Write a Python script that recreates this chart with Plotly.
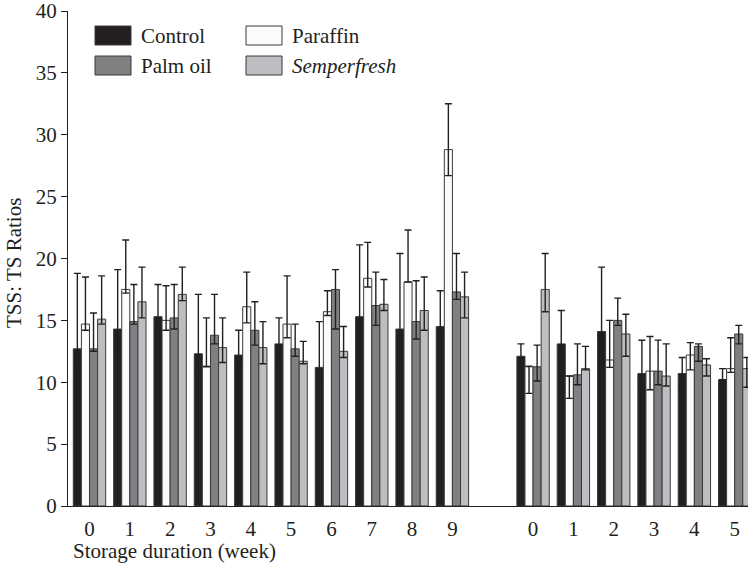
import plotly.graph_objects as go

# ---- data ----
weeks_first = list(range(10))      # first storage trial, weeks 0-9
weeks_second = list(range(6))      # second storage trial, weeks 0-5 (cut at right edge)
second_offset = 11                 # one empty slot between trials

series_names = ["Control", "Paraffin", "Palm oil", "Semperfresh"]
series_colors = ["#231f20", "#fbfbfb", "#808083", "#bdbec1"]

control_vals = [12.7, 14.3, 15.3, 12.3, 12.2, 13.1, 11.2, 15.3, 14.3, 14.5,
                12.1, 13.1, 14.1, 10.7, 10.7, 10.2]
control_up   = [6.1, 4.8, 2.6, 4.8, 2.0, 2.1, 3.7, 5.8, 6.1, 2.9,
                1.0, 2.7, 5.2, 2.7, 1.3, 0.9]
control_dn   = [1.8, 1.7, 1.0, 1.6, 0.8, 1.5, 1.3, 3.6, 3.3, 0.7,
                0.1, 0.9, 2.6, 1.0, 1.0, 0.0]

paraffin_vals = [14.7, 17.5, 15.0, 11.3, 16.1, 14.7, 15.7, 18.4, 18.1, 28.8,
                 11.25, 10.5, 11.8, 10.9, 12.2, 11.1]
paraffin_up   = [3.8, 4.0, 2.8, 3.9, 2.8, 3.9, 1.7, 2.9, 4.2, 3.7,
                 0.05, 0.0, 3.2, 2.8, 1.0, 2.5]
paraffin_dn   = [0.5, 0.3, 0.8, 0.05, 1.3, 1.1, 0.3, 0.7, 0.0, 2.1,
                 2.15, 1.8, 0.6, 1.5, 1.2, 0.3]

palm_vals = [12.7, 14.9, 15.2, 13.8, 14.2, 12.7, 17.5, 16.2, 14.9, 17.3,
             11.25, 10.6, 15.0, 10.9, 12.9, 13.9]
palm_up   = [2.9, 3.0, 2.7, 3.3, 2.3, 2.0, 1.6, 2.7, 3.3, 3.1,
             1.75, 2.5, 1.8, 2.5, 0.2, 0.7]
palm_dn   = [0.2, 0.2, 0.9, 0.7, 1.2, 0.6, 3.2, 1.6, 1.4, 0.6,
             1.15, 0.8, 0.4, 1.1, 1.2, 0.8]

semper_vals = [15.1, 16.5, 17.1, 12.8, 12.8, 11.7, 12.5, 16.3, 15.8, 16.9,
               17.5, 11.1, 13.9, 10.5, 11.4, 11.1]
semper_up   = [3.5, 2.8, 2.2, 2.4, 2.1, 1.6, 2.0, 2.0, 2.7, 2.0,
               2.9, 1.8, 1.6, 2.6, 0.5, 0.9]
semper_dn   = [0.4, 1.3, 0.5, 1.2, 1.3, 0.2, 0.5, 0.5, 1.6, 1.7,
               1.8, 0.1, 1.8, 0.8, 0.9, 1.5]

y_ticks = [0, 5, 10, 15, 20, 25, 30, 35, 40]

# ---- positions on a numeric axis ----
x_pos = weeks_first + [w + second_offset for w in weeks_second]
x_text = [str(w) for w in weeks_first + weeks_second]

values = [control_vals, paraffin_vals, palm_vals, semper_vals]
ups = [control_up, paraffin_up, palm_up, semper_up]
dns = [control_dn, paraffin_dn, palm_dn, semper_dn]

INK = "#231f20"
FONT = "Liberation Serif"

fig = go.Figure()
for name, col, v, u, d in zip(series_names, series_colors, values, ups, dns):
    fig.add_trace(go.Bar(
        x=x_pos, y=v, name=name,
        marker=dict(color=col, line=dict(color="#3a3a3a", width=1)),
        error_y=dict(type="data", symmetric=False, array=u, arrayminus=d,
                     color=INK, thickness=1.4, width=3.5),
        showlegend=False,
    ))

# custom legend (two columns)
L, W, T, H = 68, 680, 11, 495
def px_x(p): return (p - L) / W
def px_y(p): return (T + H - p) / H

legend_items = [
    (series_names[0], series_colors[0], 95, 26, False),
    (series_names[2], series_colors[2], 95, 56, False),
    (series_names[1], series_colors[1], 246, 26, False),
    (series_names[3], series_colors[3], 246, 56, True),
]
for name, col, lx, ly, ital in legend_items:
    fig.add_shape(type="rect", xref="paper", yref="paper",
                  x0=px_x(lx), x1=px_x(lx + 36), y0=px_y(ly + 19), y1=px_y(ly),
                  fillcolor=col, line=dict(color="#3a3a3a", width=1))
    fig.add_annotation(xref="paper", yref="paper", x=px_x(lx + 44), y=px_y(ly + 10),
                       text=f"<i>{name}</i>" if ital else name, showarrow=False,
                       xanchor="left", yanchor="middle",
                       font=dict(family=FONT, size=21, color=INK))

fig.add_annotation(xref="paper", yref="paper", x=px_x(71), y=px_y(551),
                   text="Storage duration (week)", showarrow=False,
                   xanchor="left", yanchor="middle",
                   font=dict(family=FONT, size=21, color=INK))
fig.add_annotation(xref="paper", yref="paper", x=px_x(14), y=px_y(263),
                   text="TSS: TS Ratios", showarrow=False, textangle=-90,
                   xanchor="center", yanchor="middle",
                   font=dict(family=FONT, size=21, color=INK))

fig.update_layout(
    width=748, height=569,
    margin=dict(l=L, r=0, t=T, b=569 - T - H),
    paper_bgcolor="white", plot_bgcolor="white",
    barmode="group", bargap=0.197, bargroupgap=0,
    font=dict(family=FONT, size=21, color=INK),
    xaxis=dict(range=[-0.533, 16.33], tickmode="array", tickvals=x_pos, ticktext=x_text,
               ticks="", showline=True, linecolor=INK, linewidth=1.2,
               showgrid=False, zeroline=False, ticklabelstandoff=4),
    yaxis=dict(range=[0, 40], tickmode="array", tickvals=y_ticks,
               ticks="outside", ticklen=6, tickwidth=1.2, tickcolor=INK,
               showline=True, linecolor=INK, linewidth=1.2,
               showgrid=False, zeroline=False, ticklabeloverflow="allow"),
)

fig.write_html("out.html")
